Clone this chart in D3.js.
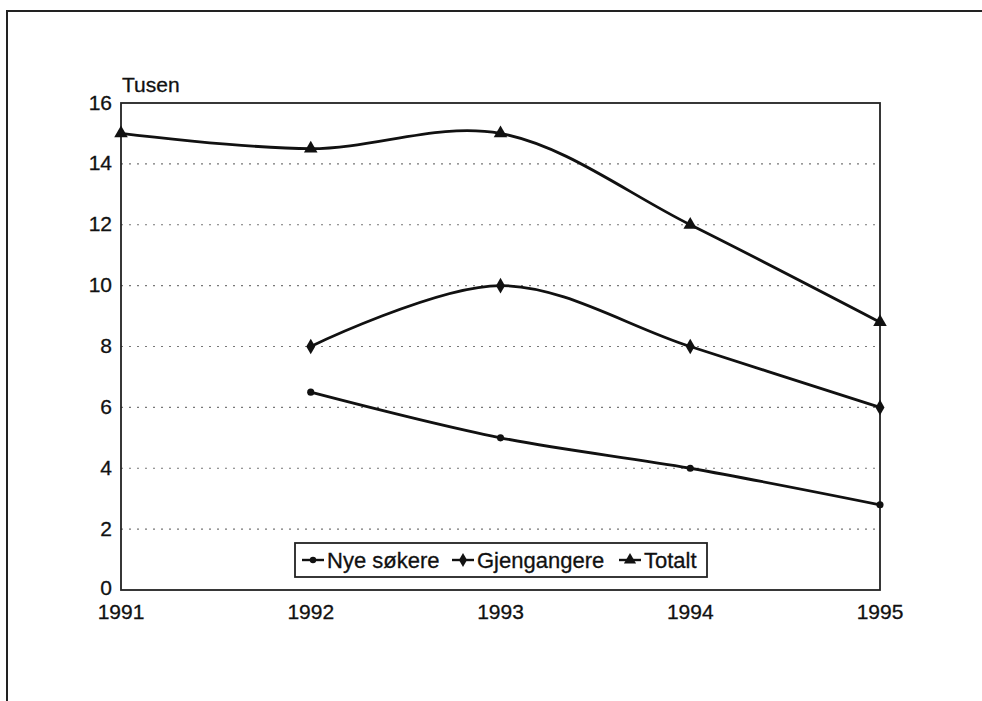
<!DOCTYPE html>
<html>
<head>
<meta charset="utf-8">
<script src="https://cdn.jsdelivr.net/npm/d3@7"></script>
<style>
  body { margin: 0; background: #fff; }
  svg text { font-family: "Liberation Sans", Arial, sans-serif; fill: #111; stroke: #111; stroke-width: 0.3px; }
</style>
</head>
<body>
<svg id="chart" width="982" height="701"></svg>
<script>
const years = [1991, 1992, 1993, 1994, 1995];
const nyeSokere = [null, 6.5, 5, 4, 2.8];
const gjengangere = [null, 8, 10, 8, 6];
const totalt = [15, 14.5, 15, 12, 8.8];
const yTicks = [0, 2, 4, 6, 8, 10, 12, 14, 16];

const series = [
  { name: "Nye søkere", values: nyeSokere, symbol: d3.symbolCircle, size: 40 },
  { name: "Gjengangere", values: gjengangere, symbol: d3.symbolDiamond, size: 70 },
  { name: "Totalt", values: totalt, symbol: d3.symbolTriangle, size: 80 }
];

const svg = d3.select("#chart");
const margin = { left: 121, right: 102, top: 103, bottom: 111 };
const W = 982, H = 701;

// ytre ramme
svg.append("rect")
  .attr("x", 7).attr("y", 11)
  .attr("width", W + 10).attr("height", H + 10)
  .attr("fill", "none").attr("stroke", "#222").attr("stroke-width", 2);

const x = d3.scaleLinear().domain([1991, 1995]).range([margin.left, W - margin.right]);
const y = d3.scaleLinear().domain([0, 16]).range([H - margin.bottom, margin.top]);

// rutenett
svg.append("g").selectAll("line")
  .data(yTicks.filter(t => t > 0 && t < 16))
  .enter().append("line")
  .attr("x1", x(1991)).attr("x2", x(1995))
  .attr("y1", d => y(d)).attr("y2", d => y(d))
  .attr("stroke", "#777").attr("stroke-width", 1.2)
  .attr("stroke-dasharray", "2,6");

// plotområde
svg.append("rect")
  .attr("x", x(1991)).attr("y", y(16))
  .attr("width", x(1995) - x(1991)).attr("height", y(0) - y(16))
  .attr("fill", "none").attr("stroke", "#222").attr("stroke-width", 1.8);

// y-akse
svg.append("g").selectAll("text")
  .data(yTicks).enter().append("text")
  .attr("x", x(1991) - 9).attr("y", d => y(d) - (d === 0 ? 3 : 1))
  .attr("dy", "0.36em").attr("text-anchor", "end")
  .attr("font-size", 21)
  .text(d => d);

// x-akse
svg.append("g").selectAll("text")
  .data(years).enter().append("text")
  .attr("x", d => x(d)).attr("y", y(0) + 29)
  .attr("text-anchor", "middle").attr("font-size", 21)
  .text(d => d);

svg.append("text")
  .attr("x", x(1991) + 1).attr("y", y(16) - 11)
  .attr("font-size", 21).text("Tusen");

// linjer
const line = d3.line()
  .x(d => x(d.year)).y(d => y(d.v))
  .curve(d3.curveCatmullRom.alpha(0.5));

series.forEach(s => {
  const pts = years.map((yr, i) => ({ year: yr, v: s.values[i] })).filter(p => p.v != null);
  svg.append("path")
    .attr("d", line(pts))
    .attr("fill", "none").attr("stroke", "#111").attr("stroke-width", 2.8);
  svg.append("g").selectAll("path")
    .data(pts).enter().append("path")
    .attr("transform", d => `translate(${x(d.year)},${y(d.v)})`)
    .attr("d", d3.symbol().type(s.symbol).size(s.size))
    .attr("fill", "#111");
});

// tegnforklaring
const lg = svg.append("g").attr("transform", "translate(295,543)");
lg.append("rect")
  .attr("width", 412).attr("height", 34)
  .attr("fill", "#fff").attr("stroke", "#222").attr("stroke-width", 1.8);
const legendX = [7, 157, 324];
series.forEach((s, i) => {
  const g = lg.append("g").attr("transform", `translate(${legendX[i]},17)`);
  g.append("line").attr("x1", 0).attr("x2", 22)
    .attr("stroke", "#111").attr("stroke-width", 2.4);
  g.append("path").attr("transform", "translate(11,0)")
    .attr("d", d3.symbol().type(s.symbol).size(s.size * 0.8))
    .attr("fill", "#111");
  g.append("text").attr("x", 25).attr("dy", "0.36em")
    .attr("font-size", 22).text(s.name);
});
</script>
</body>
</html>
